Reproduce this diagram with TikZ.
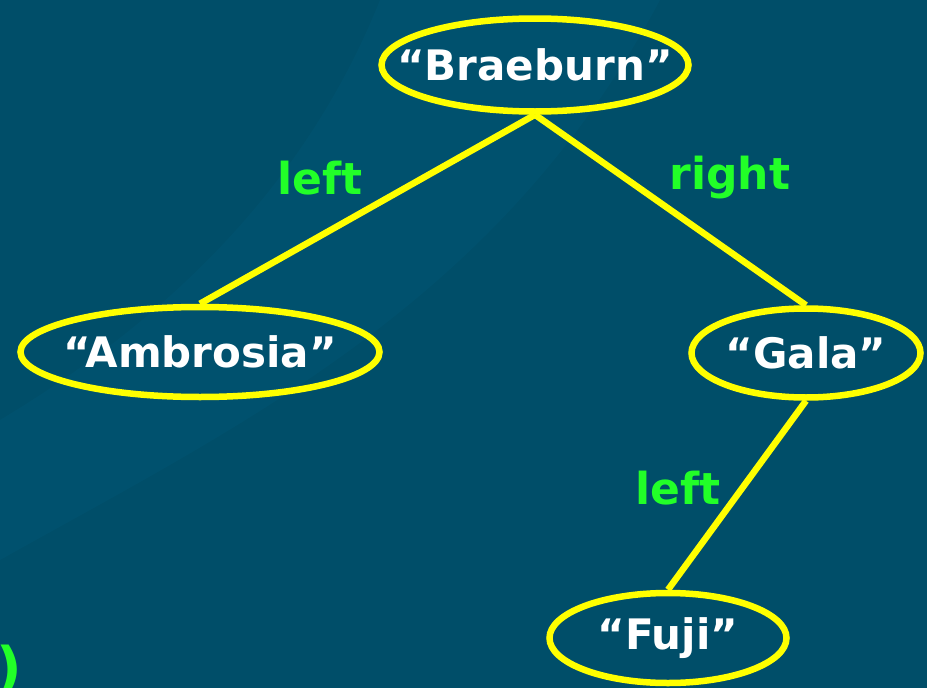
\documentclass[tikz,border=0pt]{standalone}
\usepackage{fontspec}
\setmainfont{DejaVu Sans}
\usetikzlibrary{shapes.geometric}
\definecolor{bgbase}{RGB}{0,78,105}
\definecolor{bgband}{RGB}{2,88,120}
\definecolor{ring}{RGB}{255,255,0}
\definecolor{lbl}{RGB}{34,255,40}
\tikzset{
  apple/.style={ellipse, draw=ring, line width=6.5pt, inner sep=0pt},
  name text/.style={text=white, font=\fontsize{42}{46}\selectfont\bfseries, inner sep=0pt},
  branch/.style={draw=ring, line width=6.5pt},
  tag/.style={text=lbl, font=\fontsize{44}{48}\selectfont\bfseries, inner sep=0pt}
}
\begin{document}
\begin{tikzpicture}[x=1pt,y=-1pt]
  % backdrop with a soft diagonal sweep
  \fill[bgbase] (0,0) rectangle (927,688);
  \fill[bgband, opacity=0.35]
    (0,560) .. controls (250,420) and (500,300) .. (660,0)
    -- (380,0) .. controls (300,200) and (150,330) .. (0,420) -- cycle;
  \useasboundingbox (0,0) rectangle (927,688);

  % tree nodes
  \node[apple, minimum width=307pt, minimum height=93pt,
        label={[name text]center:“Braeburn”}] (brae) at (535,65) {};
  \node[apple, minimum width=359pt, minimum height=90pt,
        label={[name text]center:“Ambrosia”}] (ambr) at (200,352) {};
  \node[apple, minimum width=229pt, minimum height=89pt,
        label={[name text]center:“Gala”}] (gala) at (806,353) {};
  \node[apple, minimum width=237pt, minimum height=90pt,
        label={[name text]center:“Fuji”}] (fuji) at (668,638) {};

  % branches
  \draw[branch] (brae.south) -- (ambr.north);
  \draw[branch] (brae.south) -- (gala.north);
  \draw[branch] (gala.south) -- (fuji.north);

  % branch labels
  \node[tag] (l1) at (320,178) {left};
  \node[tag] (r1) at (730,178) {right};
  \node[tag] (l2) at (678,488) {left};

  % trailing parenthesis at the lower-left edge
  \node[tag, font=\fontsize{56}{60}\selectfont\bfseries, anchor=east] (paren) at (22,670) {)};
\end{tikzpicture}
\end{document}
